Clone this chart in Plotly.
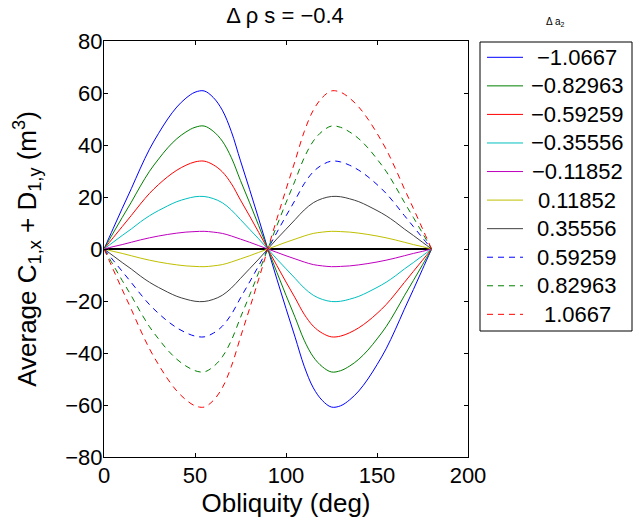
import plotly.graph_objects as go

# Obliquity grid (deg)
obliquity = list(range(0, 181, 5))

# Legend values (Delta a2)
delta_a2_labels = ["−1.0667", "−0.82963", "−0.59259", "−0.35556", "−0.11852",
                   "0.11852", "0.35556", "0.59259", "0.82963", "1.0667"]

# Average C1,x + D1,y (m^3) (0..180 deg, step 5)
y_m1_0667 = [0, 7.8, 15.6, 23.2, 31.1, 38.4, 44.5, 50.0, 54.6, 58.0, 60.3, 60.8, 58.3, 53.4, 45.1, 33.9, 22.9, 11.6, 0,
             -11.6, -22.9, -33.9, -45.1, -53.4, -58.3, -60.8, -60.3, -58.0, -54.6, -50.0, -44.5, -38.4, -31.1, -23.2, -15.6, -7.8, 0]
y_m0_82963 = [0, 6.1, 12.1, 18.0, 24.2, 29.9, 34.6, 38.9, 42.4, 45.0, 46.8, 47.3, 45.3, 41.5, 35.1, 26.3, 17.8, 9.0, 0,
              -9.0, -17.8, -26.3, -35.1, -41.5, -45.3, -47.3, -46.8, -45.0, -42.4, -38.9, -34.6, -29.9, -24.2, -18.0, -12.1, -6.1, 0]
y_m0_59259 = [0, 4.3, 8.6, 12.9, 17.3, 21.4, 24.8, 27.8, 30.3, 32.2, 33.5, 33.8, 32.4, 29.7, 25.1, 18.8, 12.7, 6.4, 0,
              -6.4, -12.7, -18.8, -25.1, -29.7, -32.4, -33.8, -33.5, -32.2, -30.3, -27.8, -24.8, -21.4, -17.3, -12.9, -8.6, -4.3, 0]
y_m0_35556 = [0, 2.6, 5.2, 7.7, 10.4, 12.8, 14.8, 16.6, 18.2, 19.3, 20.1, 20.2, 19.4, 17.8, 15.0, 11.3, 7.6, 3.9, 0,
              -3.9, -7.6, -11.3, -15.0, -17.8, -19.4, -20.2, -20.1, -19.3, -18.2, -16.6, -14.8, -12.8, -10.4, -7.7, -5.2, -2.6, 0]
y_m0_11852 = [0, 0.9, 1.7, 2.6, 3.5, 4.3, 5.0, 5.6, 6.1, 6.5, 6.7, 6.8, 6.5, 6.0, 5.0, 3.8, 2.6, 1.3, 0,
              -1.3, -2.6, -3.8, -5.0, -6.0, -6.5, -6.8, -6.7, -6.5, -6.1, -5.6, -5.0, -4.3, -3.5, -2.6, -1.7, -0.9, 0]
y_p0_11852 = [0, -0.9, -1.7, -2.6, -3.5, -4.3, -5.0, -5.6, -6.1, -6.5, -6.7, -6.8, -6.5, -6.0, -5.0, -3.8, -2.6, -1.3, 0,
              1.3, 2.6, 3.8, 5.0, 6.0, 6.5, 6.8, 6.7, 6.5, 6.1, 5.6, 5.0, 4.3, 3.5, 2.6, 1.7, 0.9, 0]
y_p0_35556 = [0, -2.6, -5.2, -7.7, -10.4, -12.8, -14.8, -16.6, -18.2, -19.3, -20.1, -20.2, -19.4, -17.8, -15.0, -11.3, -7.6, -3.9, 0,
              3.9, 7.6, 11.3, 15.0, 17.8, 19.4, 20.2, 20.1, 19.3, 18.2, 16.6, 14.8, 12.8, 10.4, 7.7, 5.2, 2.6, 0]
y_p0_59259 = [0, -4.3, -8.6, -12.9, -17.3, -21.4, -24.8, -27.8, -30.3, -32.2, -33.5, -33.8, -32.4, -29.7, -25.1, -18.8, -12.7, -6.4, 0,
              6.4, 12.7, 18.8, 25.1, 29.7, 32.4, 33.8, 33.5, 32.2, 30.3, 27.8, 24.8, 21.4, 17.3, 12.9, 8.6, 4.3, 0]
y_p0_82963 = [0, -6.1, -12.1, -18.0, -24.2, -29.9, -34.6, -38.9, -42.4, -45.0, -46.8, -47.3, -45.3, -41.5, -35.1, -26.3, -17.8, -9.0, 0,
              9.0, 17.8, 26.3, 35.1, 41.5, 45.3, 47.3, 46.8, 45.0, 42.4, 38.9, 34.6, 29.9, 24.2, 18.0, 12.1, 6.1, 0]
y_p1_0667 = [0, -7.8, -15.6, -23.2, -31.1, -38.4, -44.5, -50.0, -54.6, -58.0, -60.3, -60.8, -58.3, -53.4, -45.1, -33.9, -22.9, -11.6, 0,
             11.6, 22.9, 33.9, 45.1, 53.4, 58.3, 60.8, 60.3, 58.0, 54.6, 50.0, 44.5, 38.4, 31.1, 23.2, 15.6, 7.8, 0]

series_values = [y_m1_0667, y_m0_82963, y_m0_59259, y_m0_35556, y_m0_11852,
                 y_p0_11852, y_p0_35556, y_p0_59259, y_p0_82963, y_p1_0667]

# Reference zero line
zero_x = [0, 180]
zero_y = [0, 0]

colors = ["rgb(0,0,255)", "rgb(0,128,0)", "rgb(255,0,0)", "rgb(0,191,191)", "rgb(191,0,191)",
          "rgb(191,191,0)", "rgb(64,64,64)", "rgb(0,0,255)", "rgb(0,128,0)", "rgb(255,0,0)"]
dashes = ["solid"] * 7 + ["6px,5px"] * 3

FONT = "Liberation Sans, Arial, Helvetica, sans-serif"
FS = 22

# Plot area in pixels
L, R, T, B = 104, 468, 41, 457
W, H = 641, 521


def px_x(px):
    return (px - L) / (R - L)


def px_y(py):
    return (B - py) / (B - T)


fig = go.Figure()
fig.add_trace(go.Scatter(x=zero_x, y=zero_y, mode="lines",
                         line=dict(color="black", width=2), showlegend=False, hoverinfo="skip"))
for i, (lab, ys) in enumerate(zip(delta_a2_labels, series_values)):
    fig.add_trace(go.Scatter(
        x=obliquity, y=ys, mode="lines", name=lab, showlegend=False,
        line=dict(color=colors[i], width=1, dash=dashes[i], shape="spline"),
    ))

fig.update_layout(
    width=W, height=H,
    margin=dict(l=L, r=W - R, t=T, b=H - B, autoexpand=False),
    paper_bgcolor="white", plot_bgcolor="white",
    font=dict(family=FONT, size=FS, color="black"),
    title=dict(text="Δ ρ s = −0.4", xref="container", x=285 / W,
               xanchor="center", y=1 - 15 / H, yanchor="middle",
               font=dict(family=FONT, size=FS)),
    showlegend=False,
)
fig.update_xaxes(range=[0, 200], tickvals=[0, 50, 100, 150, 200], showgrid=False, zeroline=False,
                 ticks="inside", ticklen=4, tickcolor="black", showline=True, linecolor="black",
                 linewidth=1, mirror="ticks", automargin=False, ticklabelstandoff=-1,
                 title=dict(text="Obliquity (deg)", standoff=0))
fig.update_yaxes(range=[-80, 80], tickvals=list(range(-80, 81, 20)), showgrid=False, zeroline=False,
                 ticks="inside", ticklen=4, tickcolor="black", showline=True, linecolor="black",
                 linewidth=1, mirror="ticks", automargin=False, ticklabelstandoff=-4,
                 title=dict(text="Average C<sub>1,x</sub> + D<sub>1,y</sub> (m<sup>3</sup>)", standoff=21))

# Legend drawn as a box with line samples and labels
shapes = [dict(type="rect", xref="paper", yref="paper",
               x0=px_x(480), x1=px_x(632), y0=px_y(331), y1=px_y(42),
               line=dict(color="black", width=1), fillcolor="white", layer="above")]
annotations = []
for i, lab in enumerate(delta_a2_labels):
    yc = 57.3 + i * 28.56
    shapes.append(dict(type="line", xref="paper", yref="paper",
                       x0=px_x(487), x1=px_x(523), y0=px_y(yc), y1=px_y(yc),
                       line=dict(color=colors[i], width=1, dash=dashes[i]), layer="above"))
    annotations.append(dict(text=lab, xref="paper", yref="paper", x=px_x(577), y=px_y(yc),
                            showarrow=False, xanchor="center", yanchor="middle",
                            font=dict(family=FONT, size=FS, color="black")))
annotations.append(dict(text="Δ a<sub>2</sub>", xref="paper", yref="paper", x=px_x(555), y=px_y(22),
                        showarrow=False, font=dict(family=FONT, size=10), xanchor="center",
                        yanchor="middle"))
fig.update_layout(shapes=shapes, annotations=annotations)

fig.write_html("out.html", config={"displayModeBar": False},
               post_script="document.body.style.margin='0';document.body.style.padding='0';")
